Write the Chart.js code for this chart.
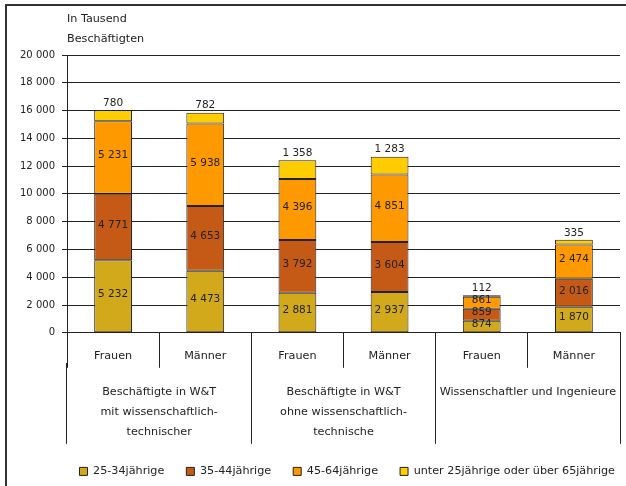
<!DOCTYPE html>
<html>
<head>
<meta charset="utf-8">
<script src="https://cdn.jsdelivr.net/npm/chart.js@4.4.1/dist/chart.umd.min.js"></script>
<style>
    html, body { margin: 0; padding: 0; background: #fff; overflow: hidden; }
    #chart { display: block; }
</style>
</head>
<body>
<canvas id="chart" width="626" height="486"></canvas>
<script>
// Daten (in Tausend Beschäftigten)
const kategorien = ['Frauen', 'Männer', 'Frauen', 'Männer', 'Frauen', 'Männer'];
const gruppen = [
    ['Beschäftigte in W&T', 'mit wissenschaftlich-', 'technischer'],
    ['Beschäftigte in W&T', 'ohne wissenschaftlich-', 'technische'],
    ['Wissenschaftler und Ingenieure']
];
const alter25bis34 = [5232, 4473, 2881, 2937, 874, 1870];
const alter35bis44 = [4771, 4653, 3792, 3604, 859, 2016];
const alter45bis64 = [5231, 5938, 4396, 4851, 861, 2474];
const alterSonstige = [780, 782, 1358, 1283, 112, 335];
const achsenTitel = ['In Tausend', 'Beschäftigten'];
const yMax = 20000;
const yStep = 2000;

const schrift = 'DejaVu Sans';
const textFarbe = '#222';
const linienFarbe = '#222';
const textGroesse = 11.2;

// Zahlen mit Leerzeichen als Tausendertrennzeichen
function fmt(v) {
    return String(v).replace(/\B(?=(\d{3})+(?!\d))/g, ' ');
}

// Rahmen links und oben (wie im Original-Ausschnitt)
const rahmenPlugin = {
    id: 'rahmen',
    beforeDraw(chart) {
        const ctx = chart.ctx;
        ctx.save();
        ctx.strokeStyle = '#333';
        ctx.lineWidth = 2;
        ctx.beginPath();
        ctx.moveTo(6, chart.height);
        ctx.lineTo(6, 5);
        ctx.lineTo(chart.width, 5);
        ctx.stroke();
        ctx.restore();
    }
};

// Werte in die Balken bzw. darüber schreiben
const wertePlugin = {
    id: 'werte',
    afterDatasetsDraw(chart) {
        const ctx = chart.ctx;
        ctx.save();
        ctx.font = '10.5px "' + schrift + '"';
        ctx.fillStyle = textFarbe;
        ctx.textAlign = 'center';
        ctx.textBaseline = 'middle';
        const last = chart.data.datasets.length - 1;
        chart.data.datasets.forEach((ds, i) => {
            const meta = chart.getDatasetMeta(i);
            meta.data.forEach((bar, j) => {
                const txt = fmt(ds.data[j]);
                if (i === last) {
                    ctx.fillText(txt, bar.x, bar.y - 7);
                } else {
                    ctx.fillText(txt, bar.x, (bar.y + bar.base) / 2 - 2);
                }
            });
        });
        ctx.restore();
    }
};

// Einheit oben links über der y-Achse
const einheitPlugin = {
    id: 'einheit',
    afterDraw(chart) {
        const ctx = chart.ctx;
        ctx.save();
        ctx.font = textGroesse + 'px "' + schrift + '"';
        ctx.fillStyle = textFarbe;
        ctx.textAlign = 'left';
        ctx.textBaseline = 'middle';
        achsenTitel.forEach((t, i) => {
            ctx.fillText(t, chart.chartArea.left, 19 + i * 20);
        });
        ctx.restore();
    }
};

const ctx = document.getElementById('chart').getContext('2d');
const chart = new Chart(ctx, {
    type: 'bar',
    data: {
        labels: kategorien,
        datasets: [
            { label: '25-34jährige', data: alter25bis34, backgroundColor: '#D3A91C' },
            { label: '35-44jährige', data: alter35bis44, backgroundColor: '#C55A17' },
            { label: '45-64jährige', data: alter45bis64, backgroundColor: '#FF9900' },
            { label: 'unter 25jährige oder über 65jährige', data: alterSonstige, backgroundColor: '#FFCC00' }
        ].map(d => Object.assign(d, {
            borderColor: '#222',
            borderWidth: 1,
            borderSkipped: false,
            barPercentage: 0.41,
            categoryPercentage: 1
        }))
    },
    options: {
        responsive: false,
        animation: false,
        // rechts negativ, damit die Legende bis an den Rand reicht; y2 hält den Plotbereich frei
        layout: { padding: { top: 55, right: -11, bottom: -1, left: 0 } },
        plugins: {
            legend: {
                position: 'bottom',
                align: 'end',
                labels: {
                    boxWidth: 8,
                    boxHeight: 8,
                    padding: 22,
                    color: textFarbe,
                    font: { family: schrift, size: textGroesse }
                }
            },
            tooltip: { enabled: false }
        },
        scales: {
            y: {
                stacked: true,
                min: 0,
                max: yMax,
                afterFit: s => { s.width = 67; },
                ticks: {
                    stepSize: yStep,
                    padding: 7,
                    color: textFarbe,
                    font: { family: schrift, size: 10 },
                    callback: v => fmt(v)
                },
                grid: { color: linienFarbe, tickLength: 5 },
                border: { color: linienFarbe }
            },
            y2: {
                position: 'right',
                min: 0,
                max: yMax,
                afterFit: s => { s.width = 17; },
                ticks: { display: false },
                grid: { display: false },
                border: { display: false }
            },
            x: {
                stacked: true,
                afterFit: s => { s.height = 30; },
                ticks: {
                    padding: -18,
                    maxRotation: 0,
                    autoSkip: false,
                    color: textFarbe,
                    font: { family: schrift, size: textGroesse }
                },
                grid: { drawOnChartArea: false, offset: true, tickLength: 35, color: linienFarbe },
                border: { color: linienFarbe }
            },
            x2: {
                type: 'category',
                position: 'bottom',
                labels: gruppen,
                afterFit: s => { s.height = 81; },
                ticks: {
                    padding: -62,
                    maxRotation: 0,
                    autoSkip: false,
                    color: textFarbe,
                    font: { family: schrift, size: textGroesse, lineHeight: '20px' }
                },
                grid: { drawOnChartArea: false, offset: true, tickLength: 81, color: linienFarbe },
                border: { display: false }
            }
        }
    },
    plugins: [rahmenPlugin, wertePlugin, einheitPlugin]
});
</script>
</body>
</html>
